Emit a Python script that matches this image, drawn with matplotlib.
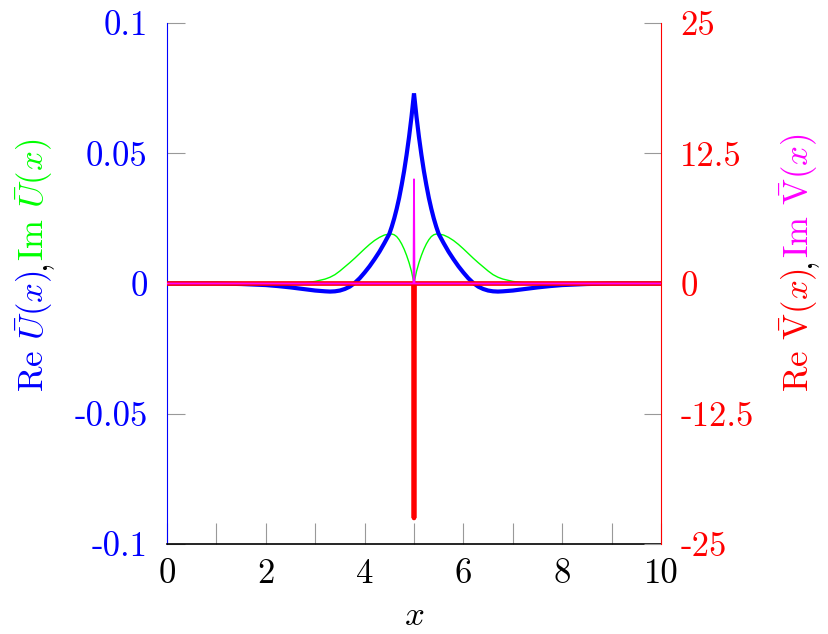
import matplotlib
matplotlib.use("Agg")
import matplotlib.pyplot as plt

plt.rcParams['mathtext.fontset'] = 'cm'
plt.rcParams['font.family'] = ['cmr10', 'DejaVu Sans']
plt.rcParams['axes.formatter.use_mathtext'] = True

# ---- data ----
x_u = [0.0, 1.0, 1.5, 2.0, 2.25, 2.5, 2.75, 3.0, 3.2, 3.3, 3.4, 3.5, 3.6, 3.7, 3.8,
       3.9, 4.0, 4.1, 4.2, 4.3, 4.4, 4.5, 4.55, 4.6, 4.65, 4.7, 4.75, 4.8, 4.85,
       4.9, 4.95, 5.0,
       5.05, 5.1, 5.15, 5.2, 5.25, 5.3, 5.35, 5.4, 5.45, 5.5, 5.6, 5.7, 5.8, 5.9,
       6.0, 6.1, 6.2, 6.3, 6.4, 6.5, 6.6, 6.7, 6.8, 7.0, 7.25, 7.5, 7.75, 8.0,
       8.5, 9.0, 10.0]
re_u = [0.0, 0.0, -0.0002, -0.0006, -0.001, -0.0015, -0.0021, -0.0027, -0.003,
        -0.0031, -0.003, -0.0027, -0.0021, -0.0012, 0.0002,
        0.002, 0.0042, 0.0066, 0.0093, 0.0122, 0.0155, 0.019, 0.0218, 0.025,
        0.0287, 0.0329, 0.0378, 0.0432, 0.0494, 0.0563, 0.0641, 0.073,
        0.0641, 0.0563, 0.0494, 0.0432, 0.0378, 0.0329, 0.0287, 0.025, 0.0218,
        0.019, 0.0155, 0.0122, 0.0093, 0.0066,
        0.0042, 0.002, 0.0002, -0.0012, -0.0021, -0.0027, -0.003, -0.0031, -0.003,
        -0.0027, -0.0021, -0.0015, -0.001, -0.0006, -0.0002, 0.0, 0.0]
im_u = [0.0, 0.0, 0.0, 0.0, 0.0, 0.0, 0.0002, 0.0008, 0.0017, 0.0024, 0.0034, 0.0048,
        0.0064, 0.0080, 0.0097,
        0.0115, 0.0133, 0.0150, 0.0165, 0.0177, 0.0186, 0.0190, 0.0190, 0.0187,
        0.0180, 0.0168, 0.0152, 0.0132, 0.0108, 0.0080, 0.0046, 0.0,
        0.0046, 0.0080, 0.0108, 0.0132, 0.0152, 0.0168, 0.0180, 0.0187, 0.0190,
        0.0190, 0.0186, 0.0177, 0.0165, 0.0150,
        0.0133, 0.0115, 0.0097, 0.0080, 0.0064, 0.0048, 0.0034, 0.0024, 0.0017,
        0.0008, 0.0002, 0.0, 0.0, 0.0, 0.0, 0.0, 0.0]

x_v = [0.0, 4.99, 5.0, 5.01, 10.0]
re_v = [0.0, 0.0, -22.5, 0.0, 0.0]
im_v = [0.0, 0.0, 10.0, 0.0, 0.0]

xticks = [0, 1, 2, 3, 4, 5, 6, 7, 8, 9, 10]
xticklabels = ['0', '', '2', '', '4', '', '6', '', '8', '', '10']
yticks_l = [-0.1, -0.05, 0.0, 0.05, 0.1]
yticklabels_l = ['-0.1', '-0.05', '0', '0.05', '0.1']
yticks_r = [-25, -12.5, 0, 12.5, 25]
yticklabels_r = ['-25', '-12.5', '0', '12.5', '25']

BLUE = '#0000ff'
GREEN = '#00ff00'
RED = '#ff0000'
MAG = '#ff00ff'

W, H = 829, 634
fig = plt.figure(figsize=(W / 100, H / 100), dpi=100)
ax = fig.add_axes([167 / W, (H - 544) / H, 494 / W, 521 / H])
ax2 = ax.twinx()

ax.plot(x_u, re_u, color=BLUE, lw=3.0, solid_joinstyle='miter', zorder=3)
ax.plot(x_u, im_u, color=GREEN, lw=1.0, zorder=2)
ax2.plot(x_v, re_v, color=RED, lw=3.4, solid_joinstyle='round', solid_capstyle='round')
ax2.plot(x_v, im_v, color=MAG, lw=1.3)

ax.set_xlim(0, 10)
ax.set_ylim(-0.1, 0.1)
ax2.set_ylim(-25, 25)

fs = 25
ax.set_xticks(xticks)
ax.set_xticklabels(xticklabels, fontsize=fs, family='cmr10')
ax.set_yticks(yticks_l)
ax.set_yticklabels(yticklabels_l, fontsize=fs, family='cmr10', color=BLUE)
ax2.set_yticks(yticks_r)
ax2.set_yticklabels(yticklabels_r, fontsize=fs, family='cmr10', color=RED)

ax.tick_params(axis='x', direction='in', length=15, width=0.8, color='#999999', pad=10)
ax.tick_params(axis='y', direction='in', length=13, width=0.8, color='#999999', pad=14)
ax2.tick_params(axis='y', direction='in', length=12, width=0.8, color='#999999', pad=14)

for a in (ax, ax2):
    a.spines['top'].set_visible(False)
ax.spines['right'].set_visible(False)
ax.spines['left'].set_color(BLUE)
ax.spines['bottom'].set_color('black')
ax.spines['bottom'].set_linewidth(1.2)
ax2.spines['left'].set_visible(False)
ax2.spines['bottom'].set_visible(False)
ax2.spines['right'].set_color(RED)

ax.set_xlabel(r'$x$', fontsize=fs, labelpad=8)

# multi-coloured rotated axis labels
fig.canvas.draw()
renderer = fig.canvas.get_renderer()


def rotated_label(xb, y0, pieces, size):
    y = y0
    for s, c in pieces:
        t = fig.text(xb / W, 1 - y / H, s, color=c, fontsize=size, rotation=90,
                     rotation_mode='anchor', ha='left', va='baseline')
        bb = t.get_window_extent(renderer)
        y -= bb.height


lab_fs = 25
rotated_label(44, 392, [(r'Re $\bar{U}(x)$', BLUE), (',', 'black'),
                        (r'Im $\bar{U}(x)$', GREEN)], lab_fs)
rotated_label(809, 392, [(r'Re $\bar{\mathrm{V}}(x)$', RED), (',', 'black'),
                         (r'Im $\bar{\mathrm{V}}(x)$', MAG)], lab_fs)

fig.savefig('out.png', dpi=100)
